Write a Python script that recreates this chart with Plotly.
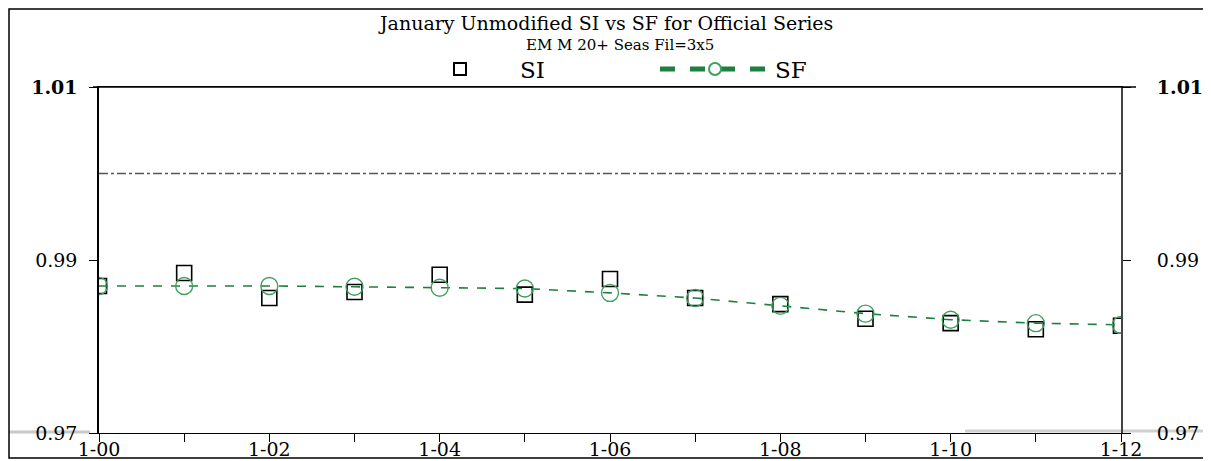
import plotly.graph_objects as go

years = list(range(2000, 2013))
tick_labels = ["1-00", "", "1-02", "", "1-04", "", "1-06", "", "1-08", "", "1-10", "", "1-12"]
si_values = [0.9870, 0.9885, 0.9856, 0.9863, 0.9883, 0.9860, 0.9878, 0.9856, 0.9849, 0.9832, 0.9827, 0.9820, 0.9824]
sf_values = [0.9870, 0.9870, 0.9870, 0.9869, 0.9868, 0.9867, 0.9862, 0.9856, 0.9847, 0.9838, 0.9831, 0.9827, 0.9825]
y_ticks = [0.97, 0.99, 1.01]
y_tick_text = ["0.97", "0.99", "<b>1.01</b>"]
ref_level = 1.0
title_text = "January Unmodified SI vs SF for Official Series"
subtitle_text = "EM M 20+ Seas Fil=3x5"

SERIF = "DejaVu Serif"
OFF = 8  # page body margin in the screenshot
W, H = 1211, 461
# desired plot-area edges in screenshot pixels
PX_L, PX_R, PX_T, PX_B = 99, 1121, 87, 433
L = PX_L - OFF
T = PX_T - OFF
R = W - (PX_R - OFF)
B = H - (PX_B - OFF)
PW, PH = W - L - R, H - T - B


def px_x(px):
    return (px - PX_L) / PW


def px_y(py):
    return (PX_B - py) / PH


fig = go.Figure()
fig.add_trace(go.Scatter(
    x=years, y=si_values, name="SI", mode="markers",
    marker=dict(symbol="square-open", size=15, color="black", line=dict(width=1.6)),
))
fig.add_trace(go.Scatter(
    x=years, y=sf_values, name="SF", mode="lines+markers",
    line=dict(color="#1f7f3f", width=1.6, dash="dash"),
    marker=dict(symbol="circle-open", size=17, color="#3f9f5f", line=dict(width=1.4)),
))
fig.add_trace(go.Scatter(
    x=years, y=sf_values, yaxis="y2", mode="lines", showlegend=False,
    line=dict(width=0), hoverinfo="skip", opacity=0,
))

fig.add_shape(type="line", xref="x", yref="y", x0=years[0], x1=years[-1], y0=ref_level, y1=ref_level,
              line=dict(color="#555555", width=1.5, dash="dashdot"))
# outer frame
fig.add_shape(type="rect", xref="paper", yref="paper",
              x0=px_x(9), x1=px_x(1207), y0=px_y(458), y1=px_y(9),
              line=dict(color="black", width=1.5))
# top axis line extends a little past the plot
fig.add_shape(type="line", xref="paper", yref="paper", x0=px_x(93), x1=px_x(1136), y0=1, y1=1,
              line=dict(color="black", width=1.5))
# faint grey lines near bottom
fig.add_shape(type="line", xref="paper", yref="paper", x0=px_x(9), x1=px_x(90), y0=px_y(432), y1=px_y(432),
              line=dict(color="#c8c8c8", width=3), layer="below")
fig.add_shape(type="line", xref="paper", yref="paper", x0=px_x(965), x1=px_x(1211), y0=px_y(431), y1=px_y(431),
              line=dict(color="#d0d0d0", width=3), layer="below")

fig.add_annotation(text=title_text, xref="paper", yref="paper", x=px_x(605), y=px_y(23),
                   xanchor="center", yanchor="middle", showarrow=False, borderpad=0,
                   font=dict(family=SERIF, size=19, color="black"))
fig.add_annotation(text=subtitle_text, xref="paper", yref="paper", x=px_x(620), y=px_y(45),
                   xanchor="center", yanchor="middle", showarrow=False, borderpad=0,
                   font=dict(family=SERIF, size=15, color="black"))

fig.update_layout(
    width=W, height=H,
    margin=dict(l=L, r=R, t=T, b=B, autoexpand=False),
    paper_bgcolor="white", plot_bgcolor="white",
    legend=dict(
        orientation="h", x=px_x(400), xanchor="left", y=px_y(69), yanchor="middle",
        font=dict(family=SERIF, size=23, color="black"),
        itemwidth=110, entrywidth=130, itemsizing="constant",
        bgcolor="rgba(0,0,0,0)",
    ),
    xaxis=dict(
        range=[years[0], years[-1]], tickvals=years, ticktext=tick_labels,
        ticks="outside", ticklen=8, tickcolor="black", tickwidth=1,
        showline=True, linecolor="black", linewidth=1.2, mirror=True,
        showgrid=False, zeroline=False, automargin=False,
        ticklabelstandoff=-9,
        tickfont=dict(family=SERIF, size=19, color="black"),
    ),
    yaxis=dict(
        range=[0.97, 1.01], tickvals=y_ticks, ticktext=y_tick_text,
        ticks="outside", ticklen=8, tickcolor="black",
        showline=True, linecolor="black", linewidth=1.5,
        showgrid=False, zeroline=False, automargin=False,
        ticklabelstandoff=8,
        tickfont=dict(family=SERIF, size=19, color="black"),
    ),
    yaxis2=dict(
        range=[0.97, 1.01], tickvals=y_ticks, ticktext=y_tick_text,
        overlaying="y", side="right", anchor="x",
        ticks="outside", ticklen=8, tickcolor="black",
        showline=True, linecolor="#444444", linewidth=2,
        showgrid=False, zeroline=False, automargin=False,
        ticklabelstandoff=22,
        tickfont=dict(family=SERIF, size=19, color="black"),
    ),
)

fig.write_html("out.html")
